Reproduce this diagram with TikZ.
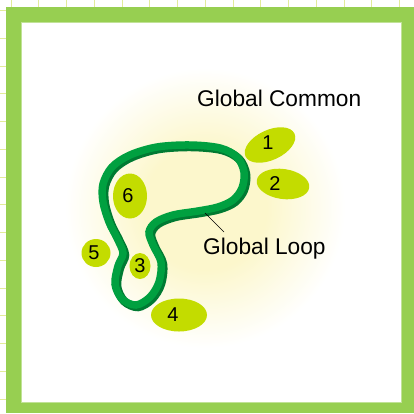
\documentclass[tikz,border=0pt]{standalone}
\usepackage{fontspec}
\setmainfont{Liberation Sans}
\usetikzlibrary{shapes.geometric}
\definecolor{framegreen}{HTML}{97CF51}
\definecolor{gridc}{HTML}{E2EC9A}
\definecolor{glowc}{HTML}{FCF7CC}
\definecolor{blob}{HTML}{C3DC00}
\definecolor{loopc}{HTML}{00A040}
\definecolor{loopdark}{HTML}{007A32}
\pgfdeclareradialshading{glowshade}{\pgfpoint{0bp}{0bp}}{color(0bp)=(glowc); color(11bp)=(glowc); color(25bp)=(white); color(50bp)=(white)}
\tikzset{
  blobnode/.style={ellipse, fill=blob, draw=none, inner sep=0pt},
  digit/.style={inner sep=0pt, font=\fontsize{20}{22}\selectfont, text=black},
  title/.style={inner sep=0pt, font=\fontsize{22.7}{26}\selectfont, text=black, anchor=base west},
}
\begin{document}
\begin{tikzpicture}[x=1pt,y=-1pt]
\useasboundingbox (0,0) rectangle (414,413);
% grid in margins
\foreach \k in {0,...,14} {
  \draw[gridc, line width=0.9pt] ({11+27.75*\k},0) -- ({11+27.75*\k},413);
  \draw[gridc, line width=0.9pt] (0,{10.5+27.75*\k}) -- (414,{10.5+27.75*\k});
}
% frame
\fill[framegreen] (6,7) rectangle (414,413);
\fill[white] (21,22) rectangle (401,402);
\draw[framegreen!60!white, line width=0.6pt] (21,22) rectangle (401,402);
% glow
\begin{scope}
\clip (21,22) rectangle (401,402);
\shade[shading=glowshade] (205,208) circle (140);
\end{scope}
% loop
\def\looppath{plot[smooth cycle, tension=0.55] coordinates {
(190,145) (220,148) (237,157) (244,172) (242,188) (233,200) (218,207) (198,211)
(173,215) (156,222) (149,232) (153,245) (161,262) (159,282) (150,297) (136,305)
(122,299) (115,284) (118,266) (123,253) (117,238) (109,222) (103,202) (103,184)
(112,167) (130,155) (157,147)}}
\begin{scope}[shift={(2,2)}]
\draw[loopdark, line width=8.5pt] \looppath;
\end{scope}
\draw[loopc, line width=7.5pt] \looppath;
% blobs
\node[blobnode, minimum width=54pt, minimum height=30pt, rotate=25] (e1) at (270,145) {};
\node[blobnode, minimum width=53pt, minimum height=30pt, rotate=-8] (e2) at (283,184) {};
\node[blobnode, minimum width=34pt, minimum height=45pt] (e6) at (130,196) {};
\node[blobnode, minimum width=29pt, minimum height=28pt] (e5) at (96,253) {};
\node[blobnode, minimum width=21pt, minimum height=26pt] (e3) at (140,266) {};
\node[blobnode, minimum width=56pt, minimum height=33pt] (e4) at (179,315) {};
\node[digit] (d1) at (268,143) {1};
\node[digit] (d2) at (275,184) {2};
\node[digit] (d6) at (128,196) {6};
\node[digit] (d5) at (94,253) {5};
\node[digit] (d3) at (140,266) {3};
\node[digit] (d4) at (173,315) {4};
% labels
\node[title] (gc) at (197,106) {Global Common};
\node[title] (gl) at (203,254) {Global Loop};
\coordinate (lp) at (205,213);
\draw[black, line width=0.6pt] (lp) -- (224,232);
\end{tikzpicture}
\end{document}
